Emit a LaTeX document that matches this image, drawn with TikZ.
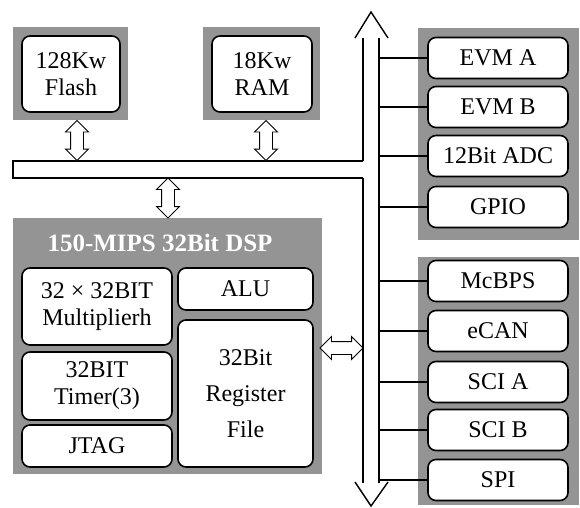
\documentclass[tikz,border=0pt]{standalone}
\usepackage{fontspec}
\setmainfont{Liberation Serif}
\usetikzlibrary{shapes.arrows,positioning}
\definecolor{halftone}{gray}{0.58}

\begin{document}
\begin{tikzpicture}[x=1pt, y=-1pt,
    every node/.style={font=\fontsize{24}{27}\selectfont},
    shadebox/.style={fill=halftone, draw=none, inner sep=0pt},
    unit/.style={draw, line width=1.6pt, rounded corners=8pt, fill=white, inner sep=0pt, align=center},
    dblarrow/.style={double arrow, draw, fill=white, line width=0.9pt, inner sep=6pt,
        double arrow head extend=5pt, minimum height=40pt},
    bus/.style={line width=1.4pt},
    tap/.style={line width=1.2pt}]
    \useasboundingbox (0,0) rectangle (580,507);

    \node[shadebox, minimum width=115pt, minimum height=93pt] (flashbg) at (70.5, 73.5) {};
    \node[unit, minimum width=98pt, minimum height=76pt] (flash) at (71, 74) {128Kw\\Flash};

    \node[shadebox, minimum width=117pt, minimum height=93pt] (rambg) at (261.5, 73.5) {};
    \node[unit, minimum width=100pt, minimum height=76pt] (ram) at (262, 74) {18Kw\\RAM};

    \draw[bus] (363, 161) -- (13, 161) -- (13, 178) -- (363, 178);
    \draw[bus] (363, 38) -- (363, 161) (363, 178) -- (363, 483);
    \draw[bus] (379, 38) -- (379, 483);
    \draw[bus] (355, 38) -- (371, 12) -- (388, 38);
    \draw[bus] (355, 482) -- (371, 506) -- (388, 482);
    \coordinate (tapx) at (379, 0);

    \node[shadebox, minimum width=309pt, minimum height=256pt] (dspbg) at (167.5, 346) {};
    \node[font=\fontsize{25}{27}\selectfont\bfseries, text=white] (dsp) at (160, 243) {150-MIPS 32Bit DSP};
    \node[unit, minimum width=150pt, minimum height=77pt] (mult) at (97, 306.5) {32 × 32BIT\\Multiplierh};
    \node[unit, minimum width=150pt, minimum height=68pt] (timer) at (97, 386) {32BIT\\Timer(3)};
    \node[unit, minimum width=150pt, minimum height=42pt] (jtag) at (97, 446) {JTAG};
    \node[unit, minimum width=135pt, minimum height=42pt] (alu) at (245.5, 289) {ALU};
    \node[unit, minimum width=135pt, minimum height=147pt] (regfile) at (245.5, 393.5) {32Bit\\[9pt]Register\\[9pt]File};

    \node[dblarrow, rotate=90] (flashlink) at (77, 140.5) {};
    \node[dblarrow, rotate=90] (ramlink) at (266, 140.5) {};
    \node[dblarrow, rotate=90] (dsplink) at (168, 198) {};
    \node[dblarrow, minimum height=43pt] (periphlink) at (341.5, 348) {};

    \node[shadebox, minimum width=161pt, minimum height=212pt] (topbg) at (498.5, 134) {};
    \node[shadebox, minimum width=161pt, minimum height=248pt] (botbg) at (498.5, 381) {};

    \foreach \id/\txt/\y in {evma/EVM A/58, evmb/EVM B/107, adc/12Bit ADC/156, gpio/GPIO/207,
        mcbps/McBPS/281, ecan/eCAN/331, scia/SCI A/382, scib/SCI B/430, spi/SPI/480} {
        \node[unit, minimum width=140pt, minimum height=41pt] (\id) at (498, \y) {\txt};
        \draw[tap] (\id.west -| tapx) -- (\id.west);
    }
\end{tikzpicture}
\end{document}
